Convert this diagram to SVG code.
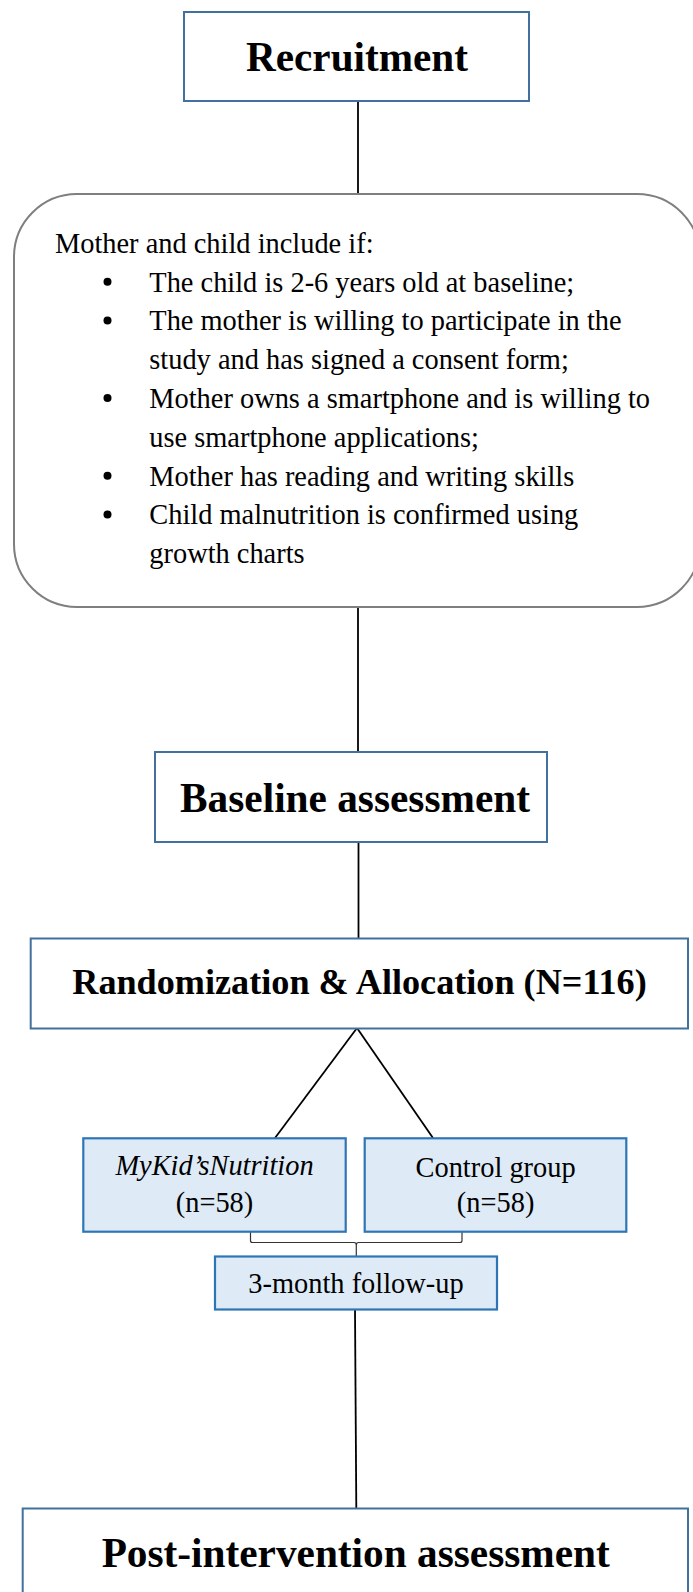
<svg xmlns="http://www.w3.org/2000/svg" width="693" height="1592" viewBox="0 0 693 1592">
<style>
.box{fill:#ffffff;stroke:#41719c;stroke-width:2}
.sub{fill:#deebf7;stroke:#2e75b6;stroke-width:2.2}
.round{fill:#ffffff;stroke:#7f7f7f;stroke-width:2}
.head{font-family:"Liberation Serif","Times New Roman",serif;font-weight:bold;fill:#000;text-anchor:middle}
.body{font-family:"Liberation Serif","Times New Roman",serif;font-size:28.4px;fill:#000}
.mid{text-anchor:middle}
.conn{stroke:#000;stroke-width:1.8;fill:none}
.brace{stroke:#333;stroke-width:1.2;fill:none}
</style>
<rect width="693" height="1592" fill="#ffffff"/>
<g id="connectors">
<line class="conn" x1="358" y1="101" x2="358" y2="194"/>
<line class="conn" x1="358" y1="607" x2="358" y2="752"/>
<line class="conn" x1="358.5" y1="841.5" x2="358.5" y2="938.5"/>
<line class="conn" x1="357" y1="1028" x2="275" y2="1138"/>
<line class="conn" x1="357" y1="1028" x2="433" y2="1138"/>
<path class="brace" d="M250.5 1232 V1240.5 Q250.5 1242.5 252.5 1242.5 H354 Q356.3 1242.5 356.3 1245 V1256 M356.3 1245 Q356.3 1242.5 358.6 1242.5 H460 Q462 1242.5 462 1240.5 V1232"/>
<line class="conn" x1="355" y1="1309.5" x2="356.3" y2="1508.5"/>
</g>
<g id="recruitment">
<rect class="box" x="184" y="12" width="345" height="89"/>
<text class="head" x="357" y="70.7" font-size="41.2">Recruitment</text>
</g>
<g id="criteria">
<rect class="round" x="14" y="194" width="686" height="413" rx="63" ry="63"/>
<text class="body" x="55" y="252.7">Mother and child include if:</text>
<circle cx="107.5" cy="281.7" r="4"/>
<circle cx="107.5" cy="320.5" r="4"/>
<circle cx="107.5" cy="398.1" r="4"/>
<circle cx="107.5" cy="475.7" r="4"/>
<circle cx="107.5" cy="514.5" r="4"/>
<text class="body" x="149.3" y="291.5">The child is 2-6 years old at baseline;</text>
<text class="body" x="149.3" y="330.3">The mother is willing to participate in the</text>
<text class="body" x="149.3" y="369.1">study and has signed a consent form;</text>
<text class="body" x="149.3" y="407.9">Mother owns a smartphone and is willing to</text>
<text class="body" x="149.3" y="446.7">use smartphone applications;</text>
<text class="body" x="149.3" y="485.5">Mother has reading and writing skills</text>
<text class="body" x="149.3" y="524.3">Child malnutrition is confirmed using</text>
<text class="body" x="149.3" y="563.1">growth charts</text>
</g>
<g id="baseline">
<rect class="box" x="155" y="752" width="392" height="90"/>
<text class="head" x="355" y="811.7" font-size="41.3">Baseline assessment</text>
</g>
<g id="randomization">
<rect class="box" x="30.7" y="938.5" width="657.3" height="90"/>
<text class="head" x="359.5" y="994" font-size="36.2">Randomization &amp; Allocation (N=116)</text>
</g>
<g id="intervention">
<rect class="sub" x="83.3" y="1138.3" width="262.4" height="93.4"/>
<text class="body mid" x="214.5" y="1175" font-style="italic">MyKid’sNutrition</text>
<text class="body mid" x="214.5" y="1211.7">(n=58)</text>
</g>
<g id="control">
<rect class="sub" x="364.7" y="1138.3" width="261.6" height="93.4"/>
<text class="body mid" x="495.6" y="1176.5">Control group</text>
<text class="body mid" x="495.6" y="1212">(n=58)</text>
</g>
<g id="followup">
<rect class="sub" x="215" y="1256.5" width="282" height="53"/>
<text class="body mid" x="356" y="1293.3">3-month follow-up</text>
</g>
<g id="post">
<rect class="box" x="22.7" y="1508.5" width="665.3" height="100"/>
<text class="head" x="355.7" y="1566.7" font-size="41.3">Post-intervention assessment</text>
</g>
</svg>
